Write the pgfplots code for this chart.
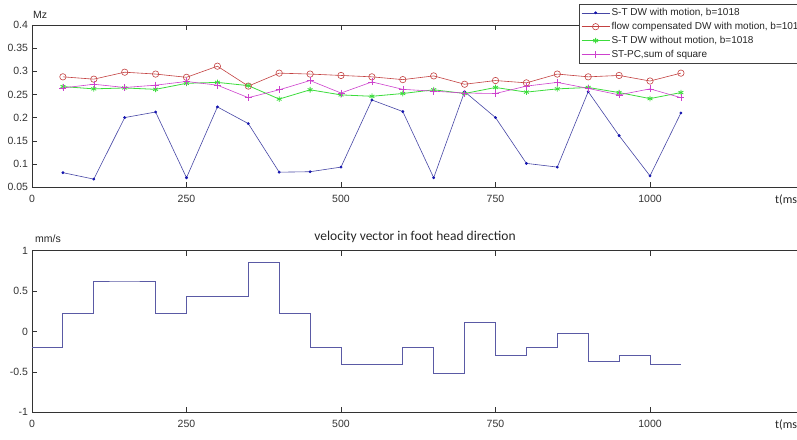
\documentclass[border=0pt]{standalone}
\usepackage{fontspec}
\setmainfont{Liberation Sans}
\newfontfamily\calfont{Carlito}
\usepackage{pgfplots}
\pgfplotsset{compat=1.18}

\definecolor{stdw}{RGB}{70,70,165}
\definecolor{stdwmark}{RGB}{20,20,175}
\definecolor{flowc}{RGB}{195,65,65}
\definecolor{nomot}{RGB}{60,220,60}
\definecolor{stpc}{RGB}{205,65,205}
\definecolor{velo}{RGB}{90,90,165}

\pgfplotsset{
  panel/.style={
    scale only axis,
    width=803.4pt,
    xmin=0, xmax=1300,
    xtick={0,250,500,750,1000},
    xticklabels={0,250,500,750,1000},
    tick align=inside,
    xtick pos=both,
    ytick pos=left,
    major tick length=5pt,
    axis line style={black!80},
    every tick/.style={black!80},
    tick label style={font=\fontsize{10.5}{11}\selectfont, text=black!80},
    xticklabel style={yshift=-4.5pt},
    yticklabel style={xshift=-0.5pt},
    /pgf/number format/assume math mode=true,
    clip=false,
  },
  legend image code/.code={
    \draw[mark repeat=2, mark phase=2, #1]
      plot coordinates {(0pt,0pt) (14pt,0pt) (28pt,0pt)};
  },
}

\begin{document}
\begin{tikzpicture}
\useasboundingbox (0,0) rectangle (797pt,439pt);
\clip (0,0) rectangle (797pt,439pt);

% Upper panel: Mz over time
\begin{axis}[panel,
  at={(32pt,252pt)}, anchor=south west,
  height=162pt,
  ymin=0.05, ymax=0.4,
  ytick={0.05,0.1,0.15,0.2,0.25,0.3,0.35,0.4},
  yticklabels={0.05,0.1,0.15,0.2,0.25,0.3,0.35,0.4},
  legend style={at={(axis description cs:0.6809,1.1296)}, anchor=north west,
    draw=black!75, fill=white, inner xsep=2pt, inner ysep=2.5pt,
    font=\fontsize{10}{10}\selectfont, text=black!85,
    nodes={inner sep=1.5pt, text height=7.2pt, text depth=2pt},
    row sep=1.7pt},
  legend cell align=left,
]
\addplot[stdw, line width=0.6pt, mark=*, mark size=1.1pt,
  mark options={stdwmark, fill=stdwmark}] coordinates {
  (50,0.081) (100,0.067) (150,0.200) (200,0.212) (250,0.070) (300,0.223)
  (350,0.187) (400,0.082) (450,0.083) (500,0.093) (550,0.238) (600,0.213)
  (650,0.070) (700,0.256) (750,0.200) (800,0.101) (850,0.093) (900,0.256)
  (950,0.161) (1000,0.074) (1050,0.210)};
\addlegendentry{S-T DW with motion, b=1018}

\addplot[flowc, line width=0.6pt, mark=o, mark size=3.2pt] coordinates {
  (50,0.288) (100,0.283) (150,0.298) (200,0.294) (250,0.287) (300,0.311)
  (350,0.268) (400,0.296) (450,0.294) (500,0.291) (550,0.288) (600,0.282)
  (650,0.290) (700,0.272) (750,0.280) (800,0.275) (850,0.294) (900,0.288)
  (950,0.291) (1000,0.279) (1050,0.296)};
\addlegendentry{flow compensated DW with motion, b=1012}

\addplot[nomot, line width=0.8pt, mark=asterisk, mark size=2.8pt] coordinates {
  (50,0.267) (100,0.262) (150,0.264) (200,0.261) (250,0.274) (300,0.276)
  (350,0.269) (400,0.240) (450,0.260) (500,0.249) (550,0.246) (600,0.252)
  (650,0.260) (700,0.252) (750,0.265) (800,0.255) (850,0.262) (900,0.265)
  (950,0.254) (1000,0.241) (1050,0.254)};
\addlegendentry{S-T DW without motion, b=1018}

\addplot[stpc, line width=0.6pt, mark=+, mark size=3.5pt] coordinates {
  (50,0.264) (100,0.272) (150,0.265) (200,0.270) (250,0.278) (300,0.270)
  (350,0.243) (400,0.260) (450,0.280) (500,0.253) (550,0.277) (600,0.261)
  (650,0.257) (700,0.253) (750,0.252) (800,0.268) (850,0.276) (900,0.263)
  (950,0.249) (1000,0.262) (1050,0.243)};
\addlegendentry{ST-PC,sum of square}
\end{axis}

% Lower panel: velocity
\begin{axis}[panel,
  at={(32pt,26.7pt)}, anchor=south west,
  height=161.6pt,
  ymin=-1, ymax=1,
  ytick={-1,-0.5,0,0.5,1},
  yticklabels={-1,-0.5,0,0.5,1},
]
\addplot[velo, line width=0.9pt, const plot mark left] coordinates {
  (0,-0.20) (50,0.22) (100,0.625) (150,0.625) (200,0.22) (250,0.43)
  (300,0.43) (350,0.855) (400,0.22) (450,-0.20) (500,-0.41) (550,-0.41)
  (600,-0.20) (650,-0.52) (700,0.115) (750,-0.30) (800,-0.20) (850,-0.03)
  (900,-0.365) (950,-0.30) (1000,-0.41) (1050,-0.41)};
\end{axis}

% Axis annotations
\node[anchor=west, inner sep=0pt, font=\fontsize{10.5}{11}\selectfont, text=black!85] at (33pt,424pt) {Mz};
\node[anchor=west, inner sep=0pt, font=\fontsize{10.5}{11}\selectfont, text=black!85] at (35pt,200pt) {mm/s};
\node[inner sep=0pt, font=\calfont\fontsize{13.5}{14}\selectfont, text=black!85] at (415pt,202pt) {velocity vector in foot head direction};
\node[anchor=west, inner sep=0pt, font=\calfont\fontsize{12}{12}\selectfont, text=black!85] at (775pt,239pt) {t(ms)};
\node[anchor=west, inner sep=0pt, font=\calfont\fontsize{12}{12}\selectfont, text=black!85] at (775pt,14pt) {t(ms)};
\end{tikzpicture}
\end{document}
